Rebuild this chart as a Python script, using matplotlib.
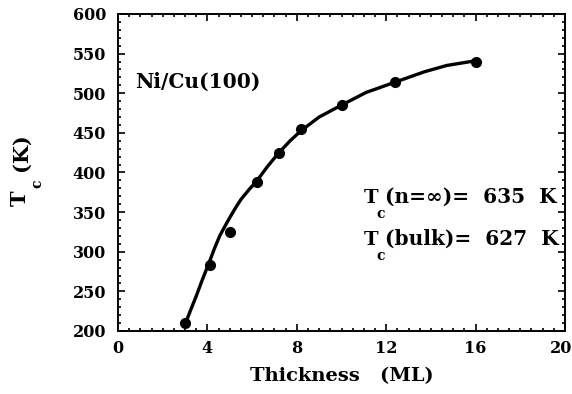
import numpy as np
import matplotlib
matplotlib.use("Agg")
import matplotlib.pyplot as plt
import matplotlib.transforms as mtransforms
from matplotlib.ticker import MultipleLocator, FuncFormatter

# measured points
thickness = [3.0, 4.1, 5.0, 6.2, 7.2, 8.2, 10.0, 12.4, 16.0]
tc = [210, 283, 325, 388, 425, 455, 485, 514, 539]

# fit curve
fit_x = [3.05, 3.3, 3.5, 3.75, 4.1, 4.3, 4.55, 4.8, 5.0, 5.25, 5.5, 5.85, 6.2, 6.7, 7.2, 7.7, 8.2, 9.0, 10.0, 11.1, 12.4, 13.7, 14.7, 16.0]
fit_y = [212, 230, 244, 263, 288, 303, 320, 333, 343, 355, 366, 378, 389, 408, 425, 440, 453, 470, 485, 501, 514, 527, 535, 541]

plt.rcParams['font.family'] = 'DejaVu Serif'
plt.rcParams['font.weight'] = 'bold'

W, H = 572, 394
fig = plt.figure(figsize=(W / 100, H / 100), dpi=100)
ax = fig.add_axes([0.2063, 0.1599, 0.7815, 0.8046])

ax.plot(fit_x, fit_y, color='black', lw=2.4, solid_capstyle='round', solid_joinstyle='round')
ax.plot(thickness, tc, 'o', color='black', markersize=7)

xmax = 20
xpad = 6.5
ax.set_xlim(0, xmax)
ax.set_ylim(200, 600)
ax.xaxis.set_major_locator(MultipleLocator(4))
ax.xaxis.set_minor_locator(MultipleLocator(0.5))
ax.yaxis.set_major_locator(MultipleLocator(50))
ax.yaxis.set_minor_locator(MultipleLocator(10))
# last x label is drawn separately, shifted left so it fits
ax.xaxis.set_major_formatter(FuncFormatter(lambda v, p: '' if v >= xmax else '%d' % v))
ax.tick_params(which='both', direction='in', top=True, right=True, width=1.2)
ax.tick_params(which='major', length=5)
ax.tick_params(which='minor', length=2.5)
ax.tick_params(axis='x', labelsize=11.5, pad=xpad)
ax.tick_params(axis='y', labelsize=11.5, pad=8.5)
for s in ax.spines.values():
    s.set_linewidth(1.4)

shift = mtransforms.ScaledTranslation(-4 / 100, -xpad / 72, fig.dpi_scale_trans)
ax.text(xmax, 0, '%d' % xmax, fontsize=11.5, ha='center', va='top',
        transform=ax.get_xaxis_transform() + shift)

ax.set_xlabel('Thickness   (ML)', fontsize=14, fontweight='bold', labelpad=7)

# y label built from pieces (subscript sits well below the T)
fig.text(20 / W, 1 - 198 / H, 'T', fontsize=15, rotation=90, ha='center', va='center')
fig.text(37 / W, 1 - 184 / H, 'c', fontsize=10, rotation=90, ha='center', va='center')
fig.text(21 / W, 1 - 152 / H, '(K)', fontsize=15, rotation=90, ha='center', va='center')

ax.text(0.76, 506.6, 'Ni/Cu(100)', fontsize=14.5, va='baseline')

rows = [(361.5, 342.6, '(n=∞)=  635  K'), (308.5, 289.6, '(bulk)=  627  K')]
for base, sub, rest in rows:
    ax.text(11.63, base, 'T', fontsize=14, ha='right', va='baseline')
    ax.text(11.56, sub, 'c', fontsize=10, ha='left', va='baseline')
    ax.text(11.95, base, rest, fontsize=14.5, ha='left', va='baseline')

fig.savefig('out.png', dpi=100)
